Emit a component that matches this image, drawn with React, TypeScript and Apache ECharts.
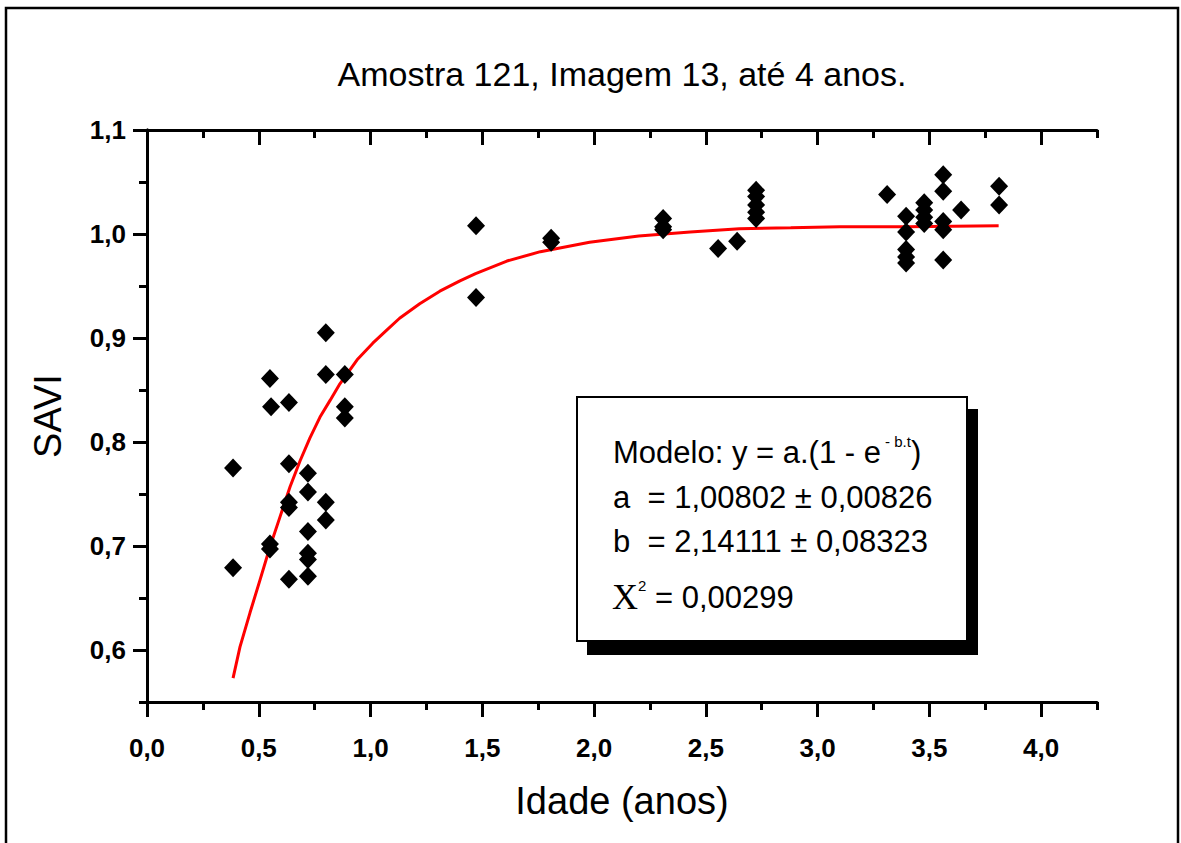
import React, { useEffect, useRef } from 'react';
import * as echarts from 'echarts';

// Scatter data: age (years) and SAVI
const idade = [
  0.385, 0.385,
  0.55, 0.555, 0.55, 0.55,
  0.635, 0.635, 0.635, 0.635, 0.635,
  0.72, 0.72, 0.72, 0.72, 0.72, 0.72,
  0.8, 0.8, 0.8, 0.8,
  0.885, 0.885, 0.885,
  1.472, 1.472,
  1.808, 1.808,
  2.309, 2.309, 2.309,
  2.555, 2.64,
  2.725, 2.725, 2.725, 2.725, 2.725,
  3.311,
  3.396, 3.396, 3.396, 3.396, 3.396,
  3.477, 3.477, 3.477, 3.477,
  3.562, 3.562, 3.562, 3.562, 3.562,
  3.642,
  3.812, 3.812,
];
const savi = [
  0.775, 0.679,
  0.861, 0.834, 0.702, 0.697,
  0.838, 0.779, 0.742, 0.737, 0.668,
  0.77, 0.752, 0.714, 0.693, 0.687, 0.671,
  0.905, 0.865, 0.742, 0.725,
  0.865, 0.834, 0.823,
  1.008, 0.939,
  0.996, 0.992,
  1.015, 1.007, 1.004,
  0.986, 0.993,
  1.042, 1.036, 1.028, 1.021, 1.015,
  1.038,
  1.017, 1.002, 0.985, 0.978, 0.972,
  1.03, 1.023, 1.016, 1.01,
  1.057, 1.041, 1.012, 1.004, 0.975,
  1.023,
  1.046, 1.028,
];

// Fitted curve, points
const curveIdade = [
  0.385, 0.416, 0.461, 0.505, 0.55, 0.595, 0.64, 0.685, 0.729, 0.774, 0.819, 0.863,
  0.94, 1.01, 1.07, 1.13, 1.22, 1.31, 1.4, 1.47, 1.61, 1.76, 1.98, 2.2, 2.43, 2.65,
  2.88, 3.1, 3.4, 3.81,
];
const curveSavi = [
  0.573, 0.603, 0.636, 0.667, 0.699, 0.728, 0.757, 0.782, 0.804, 0.824, 0.84, 0.856,
  0.879, 0.895, 0.907, 0.919, 0.933, 0.945, 0.955, 0.962, 0.974, 0.983, 0.992, 0.998,
  1.002, 1.005, 1.006, 1.007, 1.007, 1.008,
];

const xMajorTicks = [0, 0.5, 1, 1.5, 2, 2.5, 3, 3.5, 4];
const xMinorTicks = [0.25, 0.75, 1.25, 1.75, 2.25, 2.75, 3.25, 3.75, 4.25];
const yMajorTicks = [0.6, 0.7, 0.8, 0.9, 1.0, 1.1];
const yMinorTicks = [0.55, 0.65, 0.75, 0.85, 0.95, 1.05];

const titleText = 'Amostra 121, Imagem 13, até 4 anos.';
const xName = 'Idade (anos)';
const yName = 'SAVI';

const FONT = '"Liberation Sans", Arial, sans-serif';
const SERIF = '"Liberation Serif", "Times New Roman", serif';

const fmt = (v: number) => v.toFixed(1).replace('.', ',');

export default function App() {
  const ref = useRef<HTMLDivElement>(null);

  useEffect(() => {
    document.body.style.margin = '0';
    const chart = echarts.init(ref.current!, null, { renderer: 'svg' });

    const X_MIN = 0;
    const X_MAX = 4.25;
    const Y_MIN = 0.55;
    const Y_MAX = 1.1;
    const line = { show: true, lineStyle: { color: '#000', width: 3 } };
    const noLine = { show: false };
    const tick = (values: number[], len: number, inside: boolean) => ({
      show: true,
      customValues: values,
      length: len,
      inside,
      lineStyle: { color: '#000', width: 3 },
    });

    const xAxisBase = { type: 'value', min: X_MIN, max: X_MAX, splitLine: { show: false } };
    const yAxisBase = { type: 'value', min: Y_MIN, max: Y_MAX, splitLine: { show: false } };
    const tickLabel = {
      fontSize: 26,
      fontWeight: 'bold',
      color: '#000',
      fontFamily: FONT,
    };

    chart.setOption({
      animation: false,
      backgroundColor: '#fff',
      title: {
        text: titleText,
        left: 617,
        top: 52,
        textAlign: 'center',
        textStyle: { fontSize: 34, fontWeight: 'normal', color: '#000', fontFamily: FONT },
      },
      grid: { left: 147, right: 84, top: 130, bottom: 141, containLabel: false },
      xAxis: [
        {
          ...xAxisBase,
          position: 'bottom',
          axisLine: line,
          axisTick: tick(xMajorTicks, 15, false),
          axisLabel: {
            show: true,
            customValues: xMajorTicks,
            formatter: (v: number) => fmt(v),
            ...tickLabel,
            margin: 33,
          },
          name: xName,
          nameLocation: 'middle',
          nameGap: 80,
          nameTextStyle: { fontSize: 38, color: '#000', fontFamily: FONT },
        },
        {
          ...xAxisBase,
          position: 'bottom',
          axisLine: noLine,
          axisTick: tick(xMinorTicks, 8, false),
          axisLabel: { show: false },
        },
        {
          ...xAxisBase,
          position: 'top',
          axisLine: line,
          axisTick: tick(xMajorTicks, 15, true),
          axisLabel: { show: false },
        },
        {
          ...xAxisBase,
          position: 'top',
          axisLine: noLine,
          axisTick: tick(xMinorTicks, 8, true),
          axisLabel: { show: false },
        },
      ],
      yAxis: [
        {
          ...yAxisBase,
          position: 'left',
          axisLine: line,
          axisTick: tick(yMajorTicks, 14, false),
          axisLabel: {
            show: true,
            customValues: yMajorTicks,
            formatter: (v: number) => fmt(v),
            ...tickLabel,
            margin: 21,
          },
          name: yName,
          nameLocation: 'middle',
          nameGap: 80,
          nameTextStyle: { fontSize: 38, color: '#000', fontFamily: FONT },
        },
        {
          ...yAxisBase,
          position: 'left',
          axisLine: noLine,
          axisTick: tick(yMinorTicks, 8, false),
          axisLabel: { show: false },
        },
        {
          ...yAxisBase,
          position: 'right',
          axisLine: line,
          axisTick: tick(yMajorTicks, 14, true),
          axisLabel: { show: false },
        },
        {
          ...yAxisBase,
          position: 'right',
          axisLine: noLine,
          axisTick: tick(yMinorTicks, 8, true),
          axisLabel: { show: false },
        },
      ],
      series: [
        {
          type: 'scatter',
          xAxisIndex: 0,
          yAxisIndex: 0,
          symbol: 'diamond',
          symbolSize: [18, 19],
          itemStyle: { color: '#000', opacity: 1 },
          data: idade.map((x, i) => [x, savi[i]]),
          z: 3,
        },
        {
          type: 'line',
          xAxisIndex: 0,
          yAxisIndex: 0,
          showSymbol: false,
          symbol: 'none',
          smooth: false,
          lineStyle: { color: '#ff0000', width: 3 },
          data: curveIdade.map((x, i) => [x, curveSavi[i]]),
          z: 2,
        },
      ],
      graphic: [
        {
          type: 'rect',
          shape: { x: 6, y: 8, width: 1172, height: 900 },
          style: { fill: 'none', stroke: '#000', lineWidth: 2.5 },
          silent: true,
          z: 0,
        },
        {
          type: 'rect',
          shape: { x: 587, y: 409, width: 391, height: 246 },
          style: { fill: '#000' },
          z: 10,
        },
        {
          type: 'rect',
          shape: { x: 577, y: 397, width: 390, height: 244 },
          style: { fill: '#fff', stroke: '#000', lineWidth: 2 },
          z: 11,
        },
        {
          type: 'text',
          x: 613,
          y: 452,
          z: 12,
          style: {
            text: '{t|Modelo: y = a.(1 - e}{s| - b.t}{t|)}',
            verticalAlign: 'middle',
            fill: '#000',
            rich: {
              t: { fontSize: 31, fontFamily: FONT, lineHeight: 36, fill: '#000' },
              s: { fontSize: 15, fontFamily: FONT, lineHeight: 18, verticalAlign: 'top', fill: '#000' },
            },
          },
        },
        {
          type: 'text',
          x: 613,
          y: 497,
          z: 12,
          style: {
            text: 'a  = 1,00802 ± 0,00826',
            fontSize: 31,
            fontFamily: FONT,
            verticalAlign: 'middle',
            fill: '#000',
          },
        },
        {
          type: 'text',
          x: 613,
          y: 541,
          z: 12,
          style: {
            text: 'b  = 2,14111 ± 0,08323',
            fontSize: 31,
            fontFamily: FONT,
            verticalAlign: 'middle',
            fill: '#000',
          },
        },
        {
          type: 'text',
          x: 612,
          y: 597,
          z: 12,
          style: {
            text: '{c|Χ}{s|2}{t| = 0,00299}',
            verticalAlign: 'middle',
            fill: '#000',
            rich: {
              c: { fontSize: 36, fontFamily: SERIF, lineHeight: 38, fill: '#000' },
              s: { fontSize: 15, fontFamily: FONT, lineHeight: 18, verticalAlign: 'top', fill: '#000' },
              t: { fontSize: 31, fontFamily: FONT, lineHeight: 38, fill: '#000' },
            },
          },
        },
      ],
    });

    return () => chart.dispose();
  }, []);

  return <div ref={ref} style={{ width: 1181, height: 843, background: '#fff' }} />;
}
